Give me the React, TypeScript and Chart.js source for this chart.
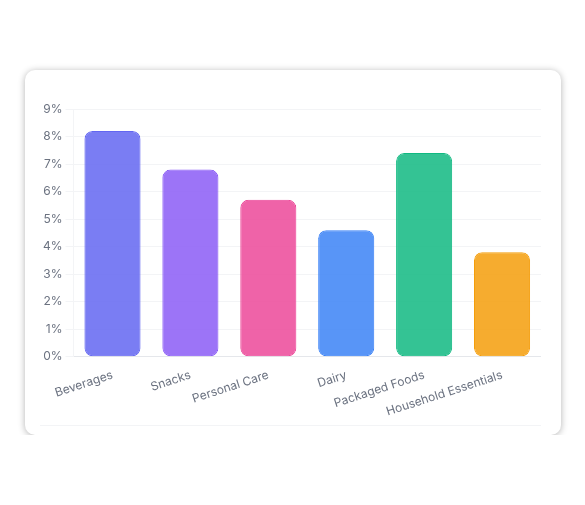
import { useEffect, useRef } from 'react';
import { Chart, ChartConfiguration, registerables } from 'chart.js';

Chart.register(...registerables);

const categories = ['Beverages', 'Snacks', 'Personal Care', 'Dairy', 'Packaged Foods', 'Household Essentials'];
const shares = [8.2, 6.8, 5.7, 4.6, 7.4, 3.8];
const barColors = ['#6366f1', '#8b5cf6', '#ec4899', '#3b82f6', '#10b981', '#f59e0b'];

const withAlpha = (hex: string, a: number) => {
  const r = parseInt(hex.slice(1, 3), 16);
  const g = parseInt(hex.slice(3, 5), 16);
  const b = parseInt(hex.slice(5, 7), 16);
  return `rgba(${r}, ${g}, ${b}, ${a})`;
};

function CategoryChart() {
  const canvasRef = useRef<HTMLCanvasElement>(null);
  const chartRef = useRef<Chart | null>(null);

  useEffect(() => {
    if (!canvasRef.current) return;
    if (chartRef.current) chartRef.current.destroy();

    const config: ChartConfiguration = {
      type: 'bar',
      data: {
        labels: categories,
        datasets: [
          {
            data: shares,
            backgroundColor: barColors.map((c) => withAlpha(c, 0.85)),
            borderColor: barColors,
            borderWidth: 1,
            borderRadius: 8,
            borderSkipped: false,
          },
        ],
      },
      options: {
        responsive: true,
        maintainAspectRatio: false,
        animation: false,
        layout: {
          padding: { top: 22, right: 0, bottom: 3, left: 0 },
        },
        plugins: {
          legend: { display: false },
          tooltip: { enabled: false },
        },
        scales: {
          x: {
            grid: { display: false },
            border: { color: '#e5e7eb' },
            ticks: {
              color: '#6b7280',
              font: { family: 'Inter', size: 12 },
              minRotation: 18,
              maxRotation: 18,
            },
          },
          y: {
            min: 0,
            max: 9,
            grid: { color: '#f3f4f6' },
            border: { color: '#f3f4f6' },
            ticks: {
              stepSize: 1,
              color: '#6b7280',
              font: { family: 'Inter', size: 12 },
              callback: (v) => `${v}%`,
            },
          },
        },
      },
    };

    chartRef.current = new Chart(canvasRef.current, config);

    return () => {
      if (chartRef.current) {
        chartRef.current.destroy();
        chartRef.current = null;
      }
    };
  }, []);

  return (
    <div style={{ position: 'relative', height: 338, borderBottom: '1px solid #f3f4f6' }}>
      <canvas ref={canvasRef} />
    </div>
  );
}

export default function App() {
  return (
    <div style={{ paddingTop: 62, paddingLeft: 17 }}>
      <div
        style={{
          width: 536,
          height: 365,
          boxSizing: 'border-box',
          background: '#fff',
          borderRadius: 10,
          boxShadow: '0 1px 7px rgba(0, 0, 0, 0.3)',
          padding: '17px 20px 10px 15px',
          fontFamily: 'Inter, sans-serif',
        }}
      >
        <CategoryChart />
      </div>
    </div>
  );
}
